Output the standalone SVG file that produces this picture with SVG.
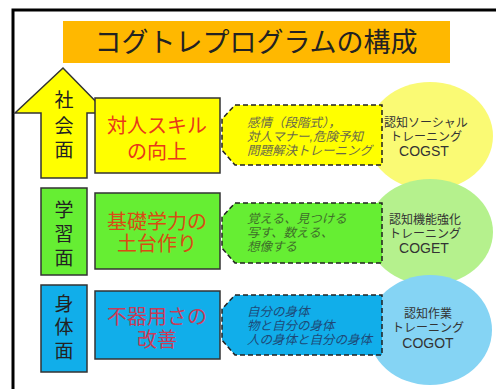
<svg xmlns="http://www.w3.org/2000/svg" width="496" height="389" viewBox="0 0 496 389">
<style>
text{font-family:"Liberation Sans","Noto Sans CJK JP",sans-serif}
.title{font-size:27px;fill:#222;text-anchor:middle}
.side{font-size:19px;fill:#222;text-anchor:middle}
.box{stroke:#333;stroke-width:1.5}
.main{font-size:20px;text-anchor:middle}
.call{stroke:#222;stroke-width:1.5;stroke-dasharray:5,3}
.ct{font-size:12.5px;font-style:italic}
.circ{font-size:12px;fill:#333;text-anchor:middle}
.cog{font-size:14px}
</style>
<rect width="496" height="389" fill="#fff"/>
<path d="M13,389 V10 H496" fill="none" stroke="#000" stroke-width="3"/>
<g id="title">
<rect x="63" y="21" width="387" height="42" fill="#FFB800"/>
<text class="title" x="256" y="52">コグトレプログラムの構成</text>
</g>
<g id="circles" opacity="0.7">
<ellipse cx="430" cy="136" rx="63" ry="54" fill="#F8F83A"/>
<ellipse cx="430" cy="232" rx="63" ry="53" fill="#96EC5E"/>
<ellipse cx="430" cy="330" rx="62" ry="55" fill="#52C2F0"/>
</g>
<g id="social-arrow">
<path d="M41,178 V113 H15 L63,68 L107,113 H87 V178 Z" class="box" fill="#FFFF00"/>
<text class="side" x="64" y="107">社</text>
<text class="side" x="64" y="133">会</text>
<text class="side" x="64" y="157">面</text>
</g>
<g id="social-box">
<rect x="95" y="98" width="125" height="75" class="box" fill="#FFFF00"/>
<text class="main" x="157" y="133" fill="#E8381A">対人スキル</text>
<text class="main" x="157" y="159" fill="#E8381A">の向上</text>
</g>
<g id="study-bar">
<rect x="41" y="188" width="46" height="87" class="box" fill="#66EE33"/>
<text class="side" x="64" y="217">学</text>
<text class="side" x="64" y="241">習</text>
<text class="side" x="64" y="265">面</text>
</g>
<g id="study-box">
<rect x="95" y="193" width="125" height="76" class="box" fill="#66EE33"/>
<text class="main" x="157" y="229" fill="#D84C14">基礎学力の</text>
<text class="main" x="157" y="251" fill="#D84C14">土台作り</text>
</g>
<g id="body-bar">
<rect x="41" y="285" width="46" height="87" class="box" fill="#11AEEA"/>
<text class="side" x="64" y="311">身</text>
<text class="side" x="64" y="334">体</text>
<text class="side" x="64" y="358">面</text>
</g>
<g id="body-box">
<rect x="95" y="291" width="125" height="68" class="box" fill="#11AEEA"/>
<text class="main" x="157" y="324" fill="#C83C58">不器用さの</text>
<text class="main" x="157" y="347" fill="#C83C58">改善</text>
</g>
<g id="social-callout">
<path d="M235,105 H382 V165 H235 L222,150 V119 Z" class="call" fill="#FFFF00"/>
<text class="ct" x="247" y="127" fill="#6A6A4A">感情（段階式），</text>
<text class="ct" x="247" y="141" fill="#6A6A4A">対人マナー,危険予知</text>
<text class="ct" x="247" y="155" fill="#6A6A4A">問題解決トレーニング</text>
</g>
<g id="study-callout">
<path d="M235,203 H382 V263 H235 L222,248 V217 Z" class="call" fill="#66EE33"/>
<text class="ct" x="247" y="223" fill="#3E6E2A">覚える、見つける</text>
<text class="ct" x="247" y="237" fill="#3E6E2A">写す、数える、</text>
<text class="ct" x="247" y="251" fill="#3E6E2A">想像する</text>
</g>
<g id="body-callout">
<path d="M235,295 H382 V355 H235 L222,340 V309 Z" class="call" fill="#11AEEA"/>
<text class="ct" x="247" y="316" fill="#1E4A78">自分の身体</text>
<text class="ct" x="247" y="330" fill="#1E4A78">物と自分の身体</text>
<text class="ct" x="247" y="344" fill="#1E4A78">人の身体と自分の身体</text>
</g>
<g id="cogst">
<text class="circ" x="426" y="127">認知ソーシャル</text>
<text class="circ" x="426" y="141">トレーニング</text>
<text class="circ cog" x="424" y="156">COGST</text>
</g>
<g id="coget">
<text class="circ" x="425" y="224">認知機能強化</text>
<text class="circ" x="425" y="238">トレーニング</text>
<text class="circ cog" x="424" y="253">COGET</text>
</g>
<g id="cogot">
<text class="circ" x="428" y="318">認知作業</text>
<text class="circ" x="428" y="332">トレーニング</text>
<text class="circ cog" x="428" y="348">COGOT</text>
</g>
</svg>
